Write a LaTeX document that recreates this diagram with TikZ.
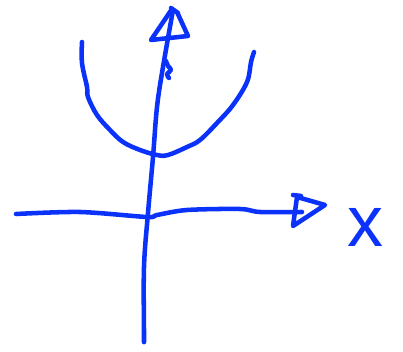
\documentclass[tikz,border=0pt]{standalone}
\usepackage{fontspec}
\setmainfont{Liberation Sans}
\definecolor{pen}{RGB}{10,50,250}
\begin{document}
\begin{tikzpicture}[x=0.75pt,y=-0.75pt,
  ink/.style={draw=pen,line width=3.4pt,line cap=round,line join=round}]
\useasboundingbox (0,0) rectangle (403,352);
% horizontal axis
\draw[ink] plot[smooth,tension=0.5] coordinates {(16,214) (80,212) (147,217) (157,215) (187,210) (240,209) (260,212) (302,212)};
% x arrowhead
\draw[ink] (293,195) -- (301,196) (297,197) -- (325,205) -- (293,226) -- (297,197);
% vertical axis
\draw[ink] plot[smooth,tension=0.6] coordinates {(144,342) (144,333) (144,267) (148,213) (153,157) (157,107) (163,67) (173,10)};
% y arrowhead
\draw[ink] (171,8) -- (178,13) (172,9) -- (151,40) -- (188,36) -- (177,12);
% small tick
\draw[ink] plot[smooth,tension=0.7] coordinates {(166,61) (168,66) (171,70) (167,74) (169,78)};
% parabola
\draw[ink] plot[smooth,tension=0.6] coordinates {(82,42) (82,63) (87,87) (88,97) (97,115) (110,130) (123,142) (140,150) (157,155) (168,155) (187,147) (200,140) (217,123) (233,105) (247,82) (251,62) (254,52)};
% label
\node[text=pen,inner sep=0pt,font=\fontsize{54}{54}\selectfont] (xlabel) at (365,227) {x};
\end{tikzpicture}
\end{document}
